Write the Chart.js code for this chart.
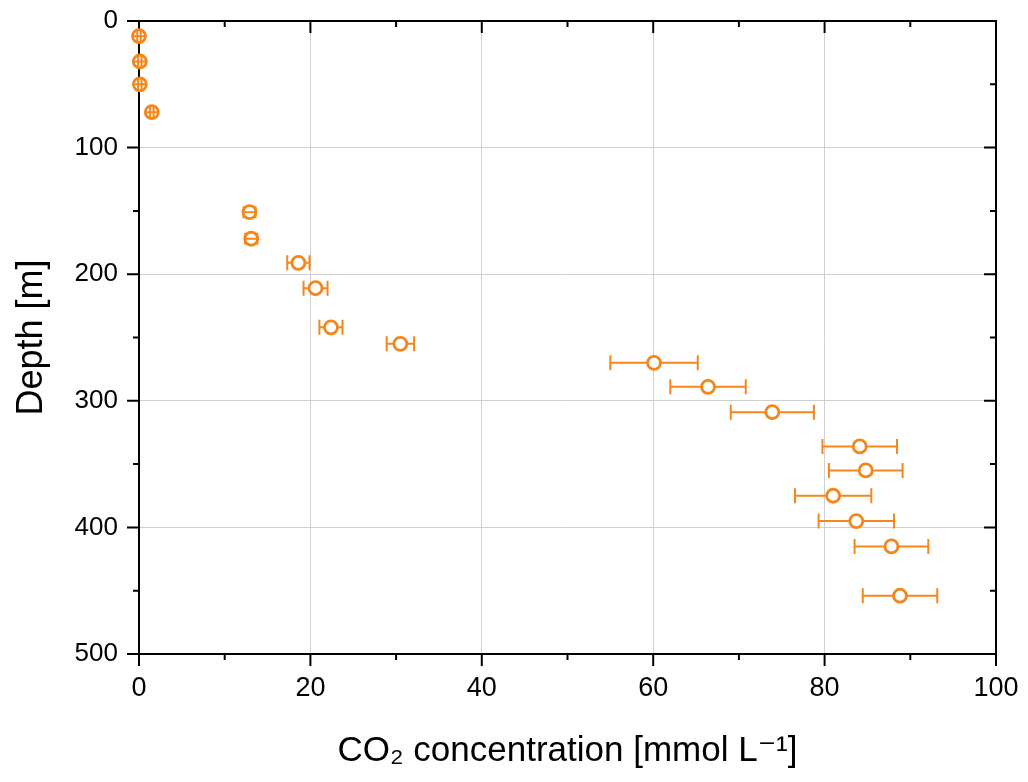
<!DOCTYPE html>
<html>
<head>
<meta charset="utf-8">
<script src="https://cdn.jsdelivr.net/npm/chart.js@4"></script>
<style>
  html, body { margin: 0; padding: 0; background: #fff; }
  #wrap { width: 1028px; height: 782px; }
</style>
</head>
<body>
<div id="wrap"><canvas id="co2-chart" width="1028" height="782"></canvas></div>
<script>
// 深度 [m] / CO2 [mmol L-1] / 오차
const depth = [12, 32, 50, 72, 151, 172, 191, 211, 242, 255, 270, 289, 309, 336, 355, 375, 395, 415, 454];
const co2 = [0.0, 0.1, 0.1, 1.5, 12.9, 13.1, 18.6, 20.6, 22.4, 30.5, 60.1, 66.4, 73.9, 84.1, 84.8, 81.0, 83.7, 87.8, 88.8];
const co2Err = [0.2, 0.2, 0.2, 0.2, 0.7, 0.7, 1.3, 1.4, 1.35, 1.6, 5.1, 4.4, 4.85, 4.35, 4.3, 4.45, 4.4, 4.3, 4.35];

const xMajor = [0, 20, 40, 60, 80, 100];
const yMajor = [0, 100, 200, 300, 400, 500];

const ORANGE = '#F3871C';
const MARK_R = 6.5;

// 축 테두리 + 안/밖 눈금
const frameTicks = {
  id: 'frameTicks',
  beforeDatasetsDraw(chart) {
    const { ctx, chartArea: a, scales: { x, y } } = chart;
    ctx.save();
    ctx.strokeStyle = '#000';
    ctx.lineWidth = 2;
    ctx.strokeRect(a.left, a.top, a.right - a.left, a.bottom - a.top);
    ctx.beginPath();
    x.ticks.forEach(t => {
      const px = x.getPixelForValue(t.value);
      const len = xMajor.includes(t.value) ? 12 : 6;
      ctx.moveTo(px, a.bottom); ctx.lineTo(px, a.bottom + len);
      ctx.moveTo(px, a.top); ctx.lineTo(px, a.top + len);
    });
    y.ticks.forEach(t => {
      const py = y.getPixelForValue(t.value);
      const len = yMajor.includes(t.value) ? 12 : 6;
      ctx.moveTo(a.left, py); ctx.lineTo(a.left - len, py);
      ctx.moveTo(a.right, py); ctx.lineTo(a.right - len, py);
    });
    ctx.stroke();
    ctx.restore();
  }
};

// 가로 오차 막대
const errorBars = {
  id: 'errorBars',
  afterDatasetsDraw(chart) {
    const { ctx, scales: { x, y } } = chart;
    ctx.save();
    ctx.strokeStyle = ORANGE;
    ctx.lineWidth = 2;
    ctx.beginPath();
    co2.forEach((v, i) => {
      const px = x.getPixelForValue(v);
      const py = y.getPixelForValue(depth[i]);
      const lo = x.getPixelForValue(v - co2Err[i]);
      const hi = x.getPixelForValue(v + co2Err[i]);
      if (hi - px > MARK_R + 1) {
        ctx.moveTo(lo, py); ctx.lineTo(px - MARK_R, py);
        ctx.moveTo(px + MARK_R, py); ctx.lineTo(hi, py);
      } else {
        ctx.moveTo(px - MARK_R, py); ctx.lineTo(px + MARK_R, py);
      }
      const cap = hi - px > MARK_R + 1 ? 7.5 : 6;
      ctx.moveTo(lo, py - cap); ctx.lineTo(lo, py + cap);
      ctx.moveTo(hi, py - cap); ctx.lineTo(hi, py + cap);
    });
    ctx.stroke();
    ctx.restore();
  }
};

const chart = new Chart(document.getElementById('co2-chart'), {
  type: 'scatter',
  data: {
    datasets: [{
      data: co2.map((v, i) => ({ x: v, y: depth[i] })),
      pointStyle: 'circle',
      pointRadius: MARK_R,
      pointHoverRadius: MARK_R,
      pointBorderWidth: 2.8,
      pointBorderColor: ORANGE,
      pointBackgroundColor: '#fff',
      clip: false
    }]
  },
  options: {
    responsive: false,
    animation: false,
    devicePixelRatio: 1,
    layout: { padding: { top: 21, right: 32, left: 0, bottom: 0 } },
    plugins: { legend: { display: false }, tooltip: { enabled: false } },
    scales: {
      x: {
        type: 'linear',
        min: 0, max: 100,
        afterFit: s => { s.height = 128; s.paddingLeft = 0; s.paddingRight = 0; },
        border: { display: false },
        grid: {
          drawTicks: false,
          color: c => (xMajor.includes(c.tick.value) && c.tick.value > 0 && c.tick.value < 100) ? '#d0d0d0' : 'rgba(0,0,0,0)',
          lineWidth: 1
        },
        ticks: {
          stepSize: 10,
          autoSkip: false,
          maxRotation: 0,
          padding: 18,
          color: '#000',
          font: { family: 'Liberation Sans', size: 27 },
          callback: v => xMajor.includes(v) ? v : ''
        },
        title: {
          display: true,
          text: 'CO\u2082 concentration [mmol L\u207B\u00B9]',
          color: '#000',
          font: { family: 'Liberation Sans, DejaVu Sans', size: 35 },
          padding: { top: 0, bottom: 10 }
        }
      },
      y: {
        type: 'linear',
        reverse: true,
        min: 0, max: 500,
        afterFit: s => { s.width = 139; s.paddingTop = 0; s.paddingBottom = 0; },
        border: { display: false },
        grid: {
          drawTicks: false,
          color: c => (yMajor.includes(c.tick.value) && c.tick.value > 0 && c.tick.value < 500) ? '#d0d0d0' : 'rgba(0,0,0,0)',
          lineWidth: 1
        },
        ticks: {
          stepSize: 50,
          autoSkip: false,
          padding: 21,
          color: '#000',
          font: { family: 'Liberation Sans', size: 26 },
          callback: v => yMajor.includes(v) ? v : ''
        },
        title: {
          display: true,
          text: 'Depth [m]',
          color: '#000',
          font: { family: 'Liberation Sans', size: 36 },
          padding: { top: 10, bottom: 0 }
        }
      }
    }
  },
  plugins: [frameTicks, errorBars]
});
</script>
</body>
</html>
